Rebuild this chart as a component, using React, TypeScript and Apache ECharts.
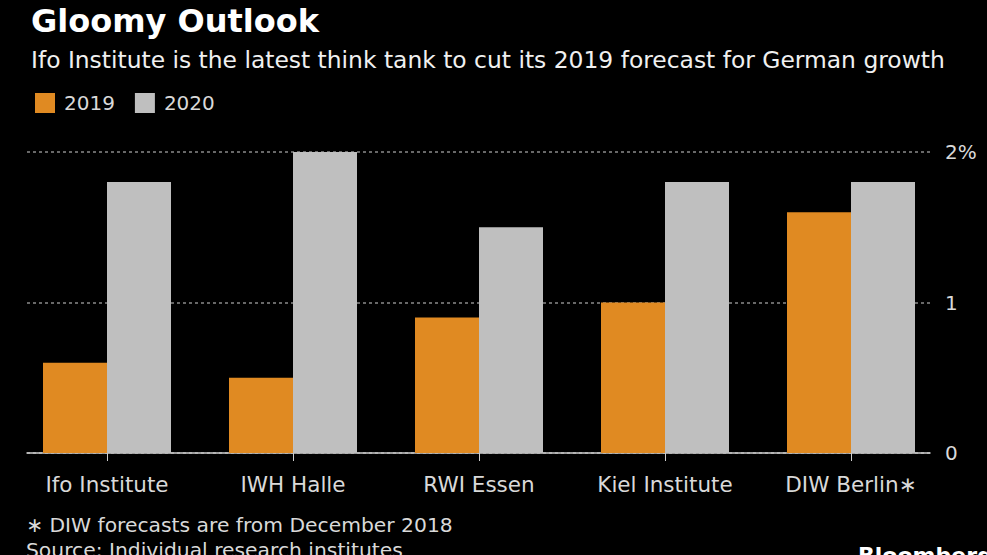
import React, { useEffect, useRef } from "react";
import * as echarts from "echarts";

const categories = ["Ifo Institute", "IWH Halle", "RWI Essen", "Kiel Institute", "DIW Berlin\u2217"];
const values2019 = [0.6, 0.5, 0.9, 1.0, 1.6];
const values2020 = [1.8, 2.0, 1.5, 1.8, 1.8];
const yTicks = [0, 1, 2];
const seriesNames = ["2019", "2020"];

const FONT = "DejaVu Sans";
const ORANGE = "#E08A22";
const GRAY = "#BFBFBF";
const TEXT = "#D9D9D9";

export default function App() {
  const ref = useRef<HTMLDivElement>(null);
  useEffect(() => {
    if (!ref.current) return;
    const chart = echarts.init(ref.current, null, { renderer: "svg" });
    const top = 152;
    const bottom = 555 - 453;
    chart.setOption({
      animation: false,
      backgroundColor: "#000000",
      textStyle: { fontFamily: FONT },
      title: [
        {
          text: "Gloomy Outlook",
          left: 26,
          top: 0,
          textStyle: { color: "#FFFFFF", fontSize: 32, fontWeight: "bold", fontFamily: FONT },
        },
        {
          text: "Ifo Institute is the latest think tank to cut its 2019 forecast for German growth",
          left: 26,
          top: 43,
          textStyle: { color: "#F0F0F0", fontSize: 23.4, fontWeight: "normal", fontFamily: FONT },
        },
      ],
      legend: {
        left: 30,
        top: 88,
        itemWidth: 20,
        itemHeight: 20,
        itemGap: 20,
        icon: "rect",
        data: seriesNames,
        textStyle: { color: TEXT, fontSize: 20, fontFamily: FONT, padding: [0, 0, 0, 4] },
      },
      grid: [
        { left: 27, right: 987 - 930, top, bottom },
        { left: 14, right: 987 - 944, top, bottom },
      ],
      xAxis: [
        {
          type: "category",
          gridIndex: 0,
          data: categories,
          axisLine: { show: true, lineStyle: { color: "#CFCFCF", width: 1.5 } },
          axisTick: { show: false },
          axisLabel: { show: false },
          splitLine: { show: false },
        },
        {
          type: "category",
          gridIndex: 1,
          data: categories,
          axisLine: { show: false },
          axisTick: { show: true, alignWithLabel: true, length: 8, lineStyle: { color: "#CFCFCF", width: 1 } },
          axisLabel: { color: TEXT, fontSize: 21.5, fontFamily: FONT, margin: 20 },
          splitLine: { show: false },
        },
      ],
      yAxis: [
        {
          type: "value",
          gridIndex: 0,
          position: "right",
          min: 0,
          max: 2,
          interval: 1,
          axisLine: { show: false },
          axisTick: { show: false },
          axisLabel: {
            color: TEXT,
            fontSize: 20,
            fontFamily: FONT,
            margin: 15,
            formatter: (v: number) => (v === yTicks[yTicks.length - 1] ? v + "%" : String(v)),
          },
          splitLine: { show: true, lineStyle: { color: "#8A8A8A", type: [3, 3], width: 1.5 } },
        },
        {
          type: "value",
          gridIndex: 1,
          min: 0,
          max: 2,
          interval: 1,
          show: false,
          splitLine: { show: false },
        },
      ],
      series: [
        {
          name: seriesNames[0],
          type: "bar",
          xAxisIndex: 1,
          yAxisIndex: 1,
          data: values2019,
          barWidth: 64,
          barGap: "0%",
          itemStyle: { color: ORANGE },
          z: 3,
        },
        {
          name: seriesNames[1],
          type: "bar",
          xAxisIndex: 1,
          yAxisIndex: 1,
          data: values2020,
          barWidth: 64,
          barGap: "0%",
          itemStyle: { color: GRAY },
          z: 3,
        },
      ],
      graphic: [
        {
          type: "text",
          left: 26,
          top: 515,
          style: { text: "\u2217 DIW forecasts are from December 2018", fill: TEXT, font: `20.3px '${FONT}'` },
        },
        {
          type: "text",
          left: 26,
          top: 540,
          style: { text: "Source: Individual research institutes", fill: TEXT, font: `20.3px '${FONT}'` },
        },
        {
          type: "text",
          left: 858,
          top: 544,
          style: { text: "Bloomberg", fill: "#FFFFFF", font: `bold 22px '${FONT}'` },
        },
      ],
    });
    return () => chart.dispose();
  }, []);
  return (
    <div
      ref={ref}
      style={{ position: "fixed", left: 0, top: 0, width: 987, height: 555, background: "#000" }}
    />
  );
}
